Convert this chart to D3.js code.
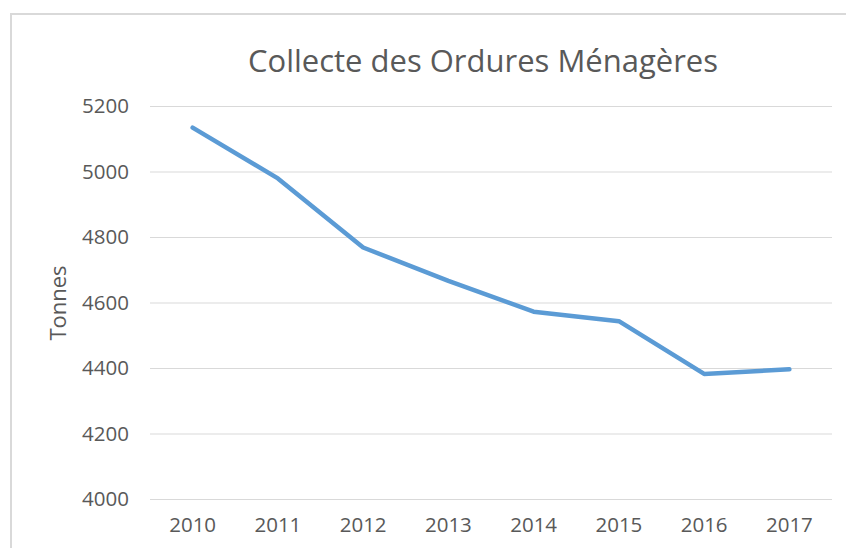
<!DOCTYPE html>
<html>
<head>
<meta charset="utf-8">
<script src="https://cdn.jsdelivr.net/npm/d3@7"></script>
<style>
  body { margin: 0; background: #fff; }
  text { font-family: "Open Sans", sans-serif; fill: #595959; }
</style>
</head>
<body>
<svg id="chart"></svg>
<script>
const years = ['2010', '2011', '2012', '2013', '2014', '2015', '2016', '2017'];
const tonnes = [5134, 4979, 4768, 4666, 4572, 4543, 4382, 4396];
const yTicks = [4000, 4200, 4400, 4600, 4800, 5000, 5200];

function makeChart() {
	let w = 846;
	let h = 548;
	let left = 150, right = 832, top = 106, bottom = 499;

	let chart = d3.select('#chart')
		.attr('width', w)
		.attr('height', h);

	// frame of the chart area
	chart.append('rect')
		.attr('x', 11)
		.attr('y', 14)
		.attr('width', w)
		.attr('height', h)
		.style('fill', 'none')
		.style('stroke', '#d9d9d9')
		.style('stroke-width', 2);

	var x = d3.scaleBand()
		.domain(years)
		.range([left, right]);

	var y = d3.scaleLinear()
		.domain([4000, 5200])
		.range([bottom, top]);

	// gridlines + y labels
	var yAxis = d3.axisLeft(y)
		.tickValues(yTicks)
		.tickFormat(d3.format('d'))
		.tickSize(-(right - left))
		.tickPadding(21);

	var gy = chart.append('g')
		.attr('transform', `translate(${left}, 0)`)
		.call(yAxis);
	gy.select('.domain').remove();
	gy.selectAll('line').style('stroke', '#d9d9d9').style('stroke-width', 1);
	gy.selectAll('text')
		.style('font-size', '20.5px')
		.style('fill', '#595959')
		.style('font-family', '"Open Sans", sans-serif');

	// x labels
	var xAxis = d3.axisBottom(x).tickSize(0).tickPadding(18);
	var gx = chart.append('g')
		.attr('transform', `translate(0, ${bottom})`)
		.call(xAxis);
	gx.select('.domain').remove();
	gx.selectAll('text')
		.style('font-size', '20.5px')
		.style('fill', '#595959')
		.style('font-family', '"Open Sans", sans-serif');

	// line
	var line = d3.line()
		.x((d, i) => x(years[i]) + x.bandwidth() / 2)
		.y(d => y(d));

	chart.append('path')
		.datum(tonnes)
		.attr('d', line)
		.style('fill', 'none')
		.style('stroke', '#5b9bd5')
		.style('stroke-width', 4.5)
		.style('stroke-linecap', 'round')
		.style('stroke-linejoin', 'round');

	// title
	chart.append('text')
		.attr('x', 483)
		.attr('y', 72)
		.style('text-anchor', 'middle')
		.style('font-size', '31px')
		.text('Collecte des Ordures Ménagères');

	// axis title
	chart.append('text')
		.attr('transform', 'translate(66, 303) rotate(-90)')
		.style('text-anchor', 'middle')
		.style('font-size', '22px')
		.text('Tonnes');
}

window.onload = function () {
	makeChart();
}
</script>
</body>
</html>
